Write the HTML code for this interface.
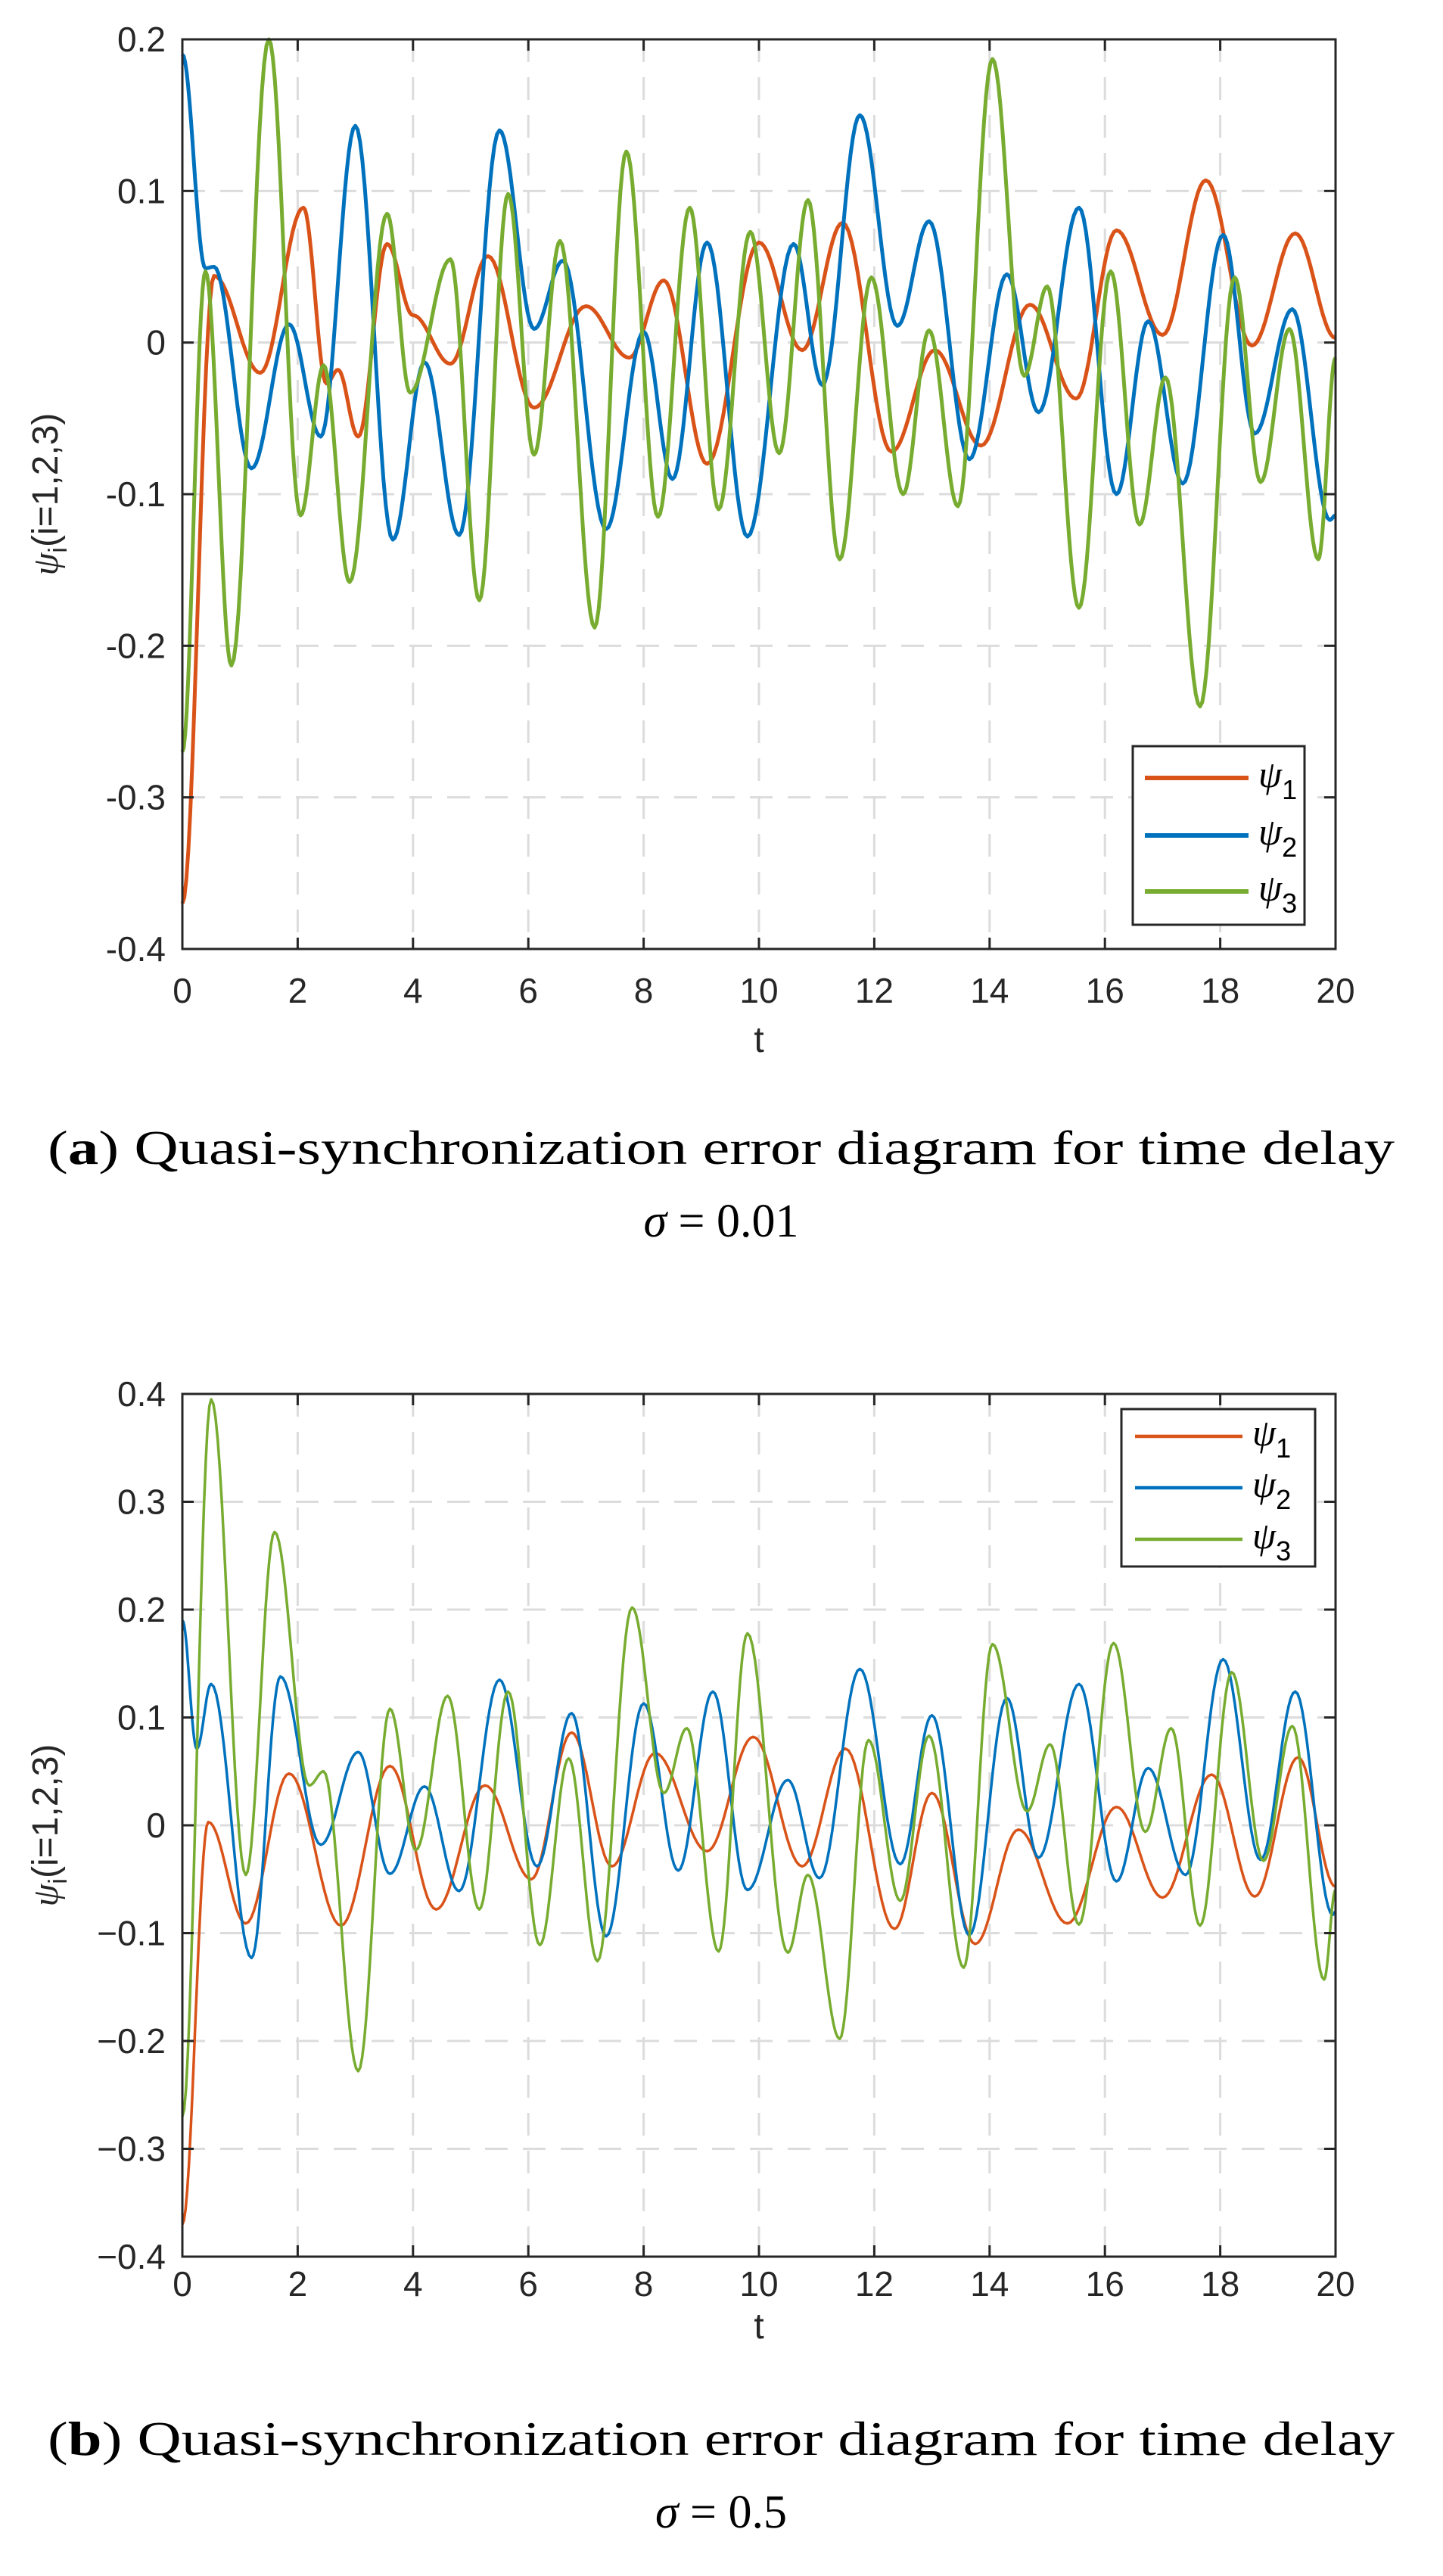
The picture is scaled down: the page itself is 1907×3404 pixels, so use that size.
<!DOCTYPE html>
<html><head><meta charset="utf-8"><style>
html,body{margin:0;padding:0;background:#fff;}
svg{display:block}
</style></head><body>
<svg id="fig" width="1907" height="3404" viewBox="0 0 1907 3404" xmlns="http://www.w3.org/2000/svg">
<g id="plotA"></g>
<g id="plotB"></g>
<text x="953" y="1538" text-anchor="middle" font-family="Liberation Serif, serif" font-size="64" textLength="1780" lengthAdjust="spacingAndGlyphs" fill="#000">(<tspan font-weight="bold">a</tspan>) Quasi-synchronization error diagram for time delay</text>
<text x="953" y="1634" text-anchor="middle" font-family="Liberation Serif, serif" font-size="62" fill="#000"><tspan font-style="italic">σ</tspan> = 0.01</text>
<text x="953" y="3244" text-anchor="middle" font-family="Liberation Serif, serif" font-size="64" textLength="1780" lengthAdjust="spacingAndGlyphs" fill="#000">(<tspan font-weight="bold">b</tspan>) Quasi-synchronization error diagram for time delay</text>
<text x="953" y="3340" text-anchor="middle" font-family="Liberation Serif, serif" font-size="62" fill="#000"><tspan font-style="italic">σ</tspan> = 0.5</text>
</svg>
<script>
// ---- data: extrema points (t, value) ----
const xTicks = [0,2,4,6,8,10,12,14,16,18,20];
const yTicksA = [0.2,0.1,0,-0.1,-0.2,-0.3,-0.4];
const yTickLabelsA = ["0.2","0.1","0","-0.1","-0.2","-0.3","-0.4"];
const yTicksB = [0.4,0.3,0.2,0.1,0,-0.1,-0.2,-0.3,-0.4];
const yTickLabelsB = ["0.4","0.3","0.2","0.1","0","\u22120.1","\u22120.2","\u22120.3","\u22120.4"];

const a1T = [0,0.55,1.35,2.1,2.5,2.7,3.05,3.55,4.0,4.65,5.3,6.1,7.0,7.75,8.35,9.1,10.0,10.75,11.45,12.3,13.05,13.85,14.7,15.5,16.2,17.0,17.75,18.55,19.3,20];
const a1V = [-0.37,0.044,-0.02,0.089,-0.027,-0.018,-0.062,0.065,0.018,-0.014,0.057,-0.043,0.024,-0.01,0.041,-0.08,0.066,-0.005,0.079,-0.072,-0.005,-0.068,0.025,-0.037,0.074,0.005,0.107,-0.002,0.072,0.003];
const a2T = [0,0.4,0.55,1.2,1.85,2.4,3.0,3.65,4.2,4.8,5.5,6.1,6.6,7.35,8.0,8.5,9.1,9.8,10.6,11.1,11.75,12.4,12.95,13.65,14.3,14.85,15.55,16.2,16.75,17.35,18.05,18.6,19.25,19.9,20];
const a2V = [0.19,0.049,0.05,-0.083,0.012,-0.062,0.143,-0.13,-0.013,-0.127,0.14,0.009,0.054,-0.123,0.007,-0.09,0.066,-0.128,0.065,-0.028,0.15,0.011,0.08,-0.077,0.045,-0.046,0.089,-0.1,0.014,-0.093,0.071,-0.06,0.022,-0.117,-0.114];
const a3T = [0,0.4,0.85,1.5,2.05,2.45,2.9,3.55,3.95,4.65,5.15,5.65,6.1,6.55,7.15,7.7,8.25,8.8,9.3,9.85,10.35,10.85,11.4,11.95,12.5,12.95,13.45,14.05,14.6,15.0,15.55,16.1,16.6,17.05,17.65,18.25,18.7,19.2,19.7,20];
const a3V = [-0.27,0.047,-0.213,0.2,-0.114,-0.015,-0.158,0.085,-0.033,0.055,-0.17,0.098,-0.074,0.067,-0.188,0.126,-0.115,0.089,-0.11,0.073,-0.073,0.094,-0.143,0.043,-0.1,0.008,-0.108,0.187,-0.022,0.037,-0.175,0.047,-0.12,-0.023,-0.24,0.043,-0.092,0.009,-0.143,-0.01];

const b1T = [0,0.45,1.1,1.85,2.75,3.6,4.4,5.25,6.05,6.75,7.45,8.2,9.1,9.9,10.75,11.5,12.35,13.0,13.75,14.5,15.35,16.2,17.0,17.85,18.6,19.35,20];
const b1V = [-0.37,0.003,-0.091,0.048,-0.093,0.055,-0.078,0.037,-0.05,0.086,-0.038,0.067,-0.024,0.082,-0.038,0.071,-0.096,0.03,-0.11,-0.004,-0.091,0.017,-0.067,0.047,-0.066,0.063,-0.057];
const b2T = [0,0.25,0.5,1.2,1.7,2.4,3.05,3.6,4.2,4.8,5.5,6.15,6.75,7.35,8.0,8.6,9.2,9.8,10.5,11.05,11.75,12.45,13.0,13.65,14.3,14.85,15.55,16.2,16.75,17.4,18.05,18.7,19.3,19.95,20];
const b2V = [0.19,0.071,0.131,-0.123,0.138,-0.018,0.068,-0.045,0.036,-0.061,0.135,-0.038,0.104,-0.103,0.113,-0.042,0.124,-0.06,0.042,-0.049,0.145,-0.036,0.102,-0.102,0.118,-0.03,0.131,-0.052,0.053,-0.046,0.154,-0.032,0.124,-0.083,-0.08];
const b3T = [0,0.5,1.1,1.6,2.2,2.45,3.05,3.6,4.05,4.6,5.15,5.65,6.2,6.7,7.2,7.8,8.35,8.75,9.3,9.8,10.5,10.85,11.4,11.9,12.45,12.95,13.55,14.05,14.65,15.05,15.55,16.15,16.7,17.15,17.65,18.2,18.75,19.25,19.8,20];
const b3V = [-0.27,0.395,-0.046,0.272,0.037,0.05,-0.228,0.108,-0.023,0.12,-0.078,0.124,-0.111,0.062,-0.126,0.202,0.03,0.09,-0.117,0.178,-0.118,-0.046,-0.198,0.079,-0.07,0.083,-0.132,0.168,0.013,0.075,-0.092,0.169,-0.006,0.09,-0.093,0.142,-0.033,0.092,-0.143,-0.06];

const seriesNames = ["\u03c8","\u03c8","\u03c8"];
const colors = ["#D95319","#0072BD","#77AC30"];
const NS = "http://www.w3.org/2000/svg";

function mk(parent, tag, attrs){
  const e = document.createElementNS(NS, tag);
  for (const k in attrs) e.setAttribute(k, attrs[k]);
  parent.appendChild(e);
  return e;
}

function drawChart(g, cfg){
  const L=cfg.left, R=cfg.right, T=cfg.top, B=cfg.bottom;
  const xs = t => L + (t-0)/(20-0)*(R-L);
  const ys = v => T + (cfg.ymax - v)/(cfg.ymax-cfg.ymin)*(B-T);
  xTicks.forEach(t=>{
    if (t===0||t===20) return;
    const l = mk(g,'line',{x1:xs(t),x2:xs(t),y1:T,y2:B,stroke:'#dcdcdc','stroke-width':3,'stroke-dasharray':'30 20'});
    
    
  });
  cfg.yTicks.forEach(v=>{
    if (v===cfg.ymax||v===cfg.ymin) return;
    const l = mk(g,'line',{x1:L,x2:R,y1:ys(v),y2:ys(v),stroke:'#dcdcdc','stroke-width':3,'stroke-dasharray':'30 20'});
    
    
  });
  cfg.series.forEach((s,i)=>{
    const T_=s[0], V_=s[1];
    let d = 'M'+xs(T_[0]).toFixed(1)+','+ys(V_[0]).toFixed(1);
    for (let k=0;k<T_.length-1;k++){
      const t0=T_[k],t1=T_[k+1],v0=V_[k],v1=V_[k+1];
      const n=16;
      for (let j=1;j<=n;j++){
        const u=j/n;
        const t=t0+(t1-t0)*u;
        const w=(1-Math.cos(Math.PI*u))/2;
        const v=v0+(v1-v0)*w;
        d+=' L'+xs(t).toFixed(1)+','+ys(v).toFixed(1);
      }
    }
    const p = mk(g,'path',{d:d,fill:'none',stroke:colors[i],'stroke-width':cfg.lw,'stroke-linejoin':'round'});
    
    
  });
  const box = mk(g,'rect',{x:L,y:T,width:R-L,height:B-T,fill:'none',stroke:'#262626','stroke-width':3});
  
  
  xTicks.forEach(t=>{
    mk(g,'line',{x1:xs(t),x2:xs(t),y1:B,y2:B-15,stroke:'#262626','stroke-width':3});
    mk(g,'line',{x1:xs(t),x2:xs(t),y1:T,y2:T+15,stroke:'#262626','stroke-width':3});
    const tx = mk(g,'text',{x:xs(t),y:cfg.xLabY,'text-anchor':'middle','font-family':'Liberation Sans, sans-serif','font-size':46,fill:'#262626'});
    tx.textContent = String(t);
    
    
  });
  cfg.yTicks.forEach((v,k)=>{
    mk(g,'line',{x1:L,x2:L+15,y1:ys(v),y2:ys(v),stroke:'#262626','stroke-width':3});
    mk(g,'line',{x1:R,x2:R-15,y1:ys(v),y2:ys(v),stroke:'#262626','stroke-width':3});
    const tx = mk(g,'text',{x:L-22,y:ys(v)+16,'text-anchor':'end','font-family':'Liberation Sans, sans-serif','font-size':46,fill:'#262626'});
    tx.textContent = cfg.yLabels[k];
    
    
  });
  const xt = mk(g,'text',{x:(L+R)/2,y:cfg.tY,'text-anchor':'middle','font-family':'Liberation Sans, sans-serif','font-size':48,fill:'#262626'});
  xt.textContent='t';
  
  
  const cy=(T+B)/2;
  const yt = mk(g,'text',{x:0,y:0,'text-anchor':'middle','font-family':'Liberation Sans, sans-serif','font-size':48,fill:'#262626',transform:'translate('+(L-165)+','+cy+') rotate(-90)'});
  yt.innerHTML='<tspan font-family="Liberation Serif, serif" font-style="italic">\u03c8</tspan><tspan font-size="34" dy="12">i</tspan><tspan dy="-12">(i=1,2,3)</tspan>';
  
  
  const lg = cfg.legend;
  const lr = mk(g,'rect',{x:lg.x,y:lg.y,width:lg.w,height:lg.h,fill:'#fff',stroke:'#262626','stroke-width':3});
  
  
  lg.rows.forEach((ry,i)=>{
    const ll = mk(g,'line',{x1:lg.lx1,x2:lg.lx2,y1:ry,y2:ry,stroke:colors[i],'stroke-width':cfg.lw+1});
    
    
    const lt = mk(g,'text',{x:lg.tx,y:ry+12,'font-family':'Liberation Serif, serif','font-size':50,fill:'#000'});
    lt.innerHTML='<tspan font-style="italic">'+seriesNames[i]+'</tspan><tspan font-family="Liberation Sans, sans-serif" font-size="36" dy="16">'+(i+1)+'</tspan>';
    
    
  });
}

drawChart(document.getElementById('plotA'),{
  left:241,right:1765,top:52,bottom:1254,ymin:-0.4,ymax:0.2,
  yTicks:yTicksA,yLabels:yTickLabelsA,xLabY:1325,tY:1390,lw:5,
  series:[[a1T,a1V],[a2T,a2V],[a3T,a3V]],
  legend:{x:1497,y:986,w:227,h:236,rows:[1028,1104,1178],lx1:1513,lx2:1650,tx:1663}
});
drawChart(document.getElementById('plotB'),{
  left:241,right:1765,top:1842,bottom:2982,ymin:-0.4,ymax:0.4,
  yTicks:yTicksB,yLabels:yTickLabelsB,xLabY:3034,tY:3090,lw:3.5,
  series:[[b1T,b1V],[b2T,b2V],[b3T,b3V]],
  legend:{x:1482,y:1862,w:256,h:208,rows:[1898,1966,2034],lx1:1500,lx2:1642,tx:1655}
});
</script>
</body></html>
